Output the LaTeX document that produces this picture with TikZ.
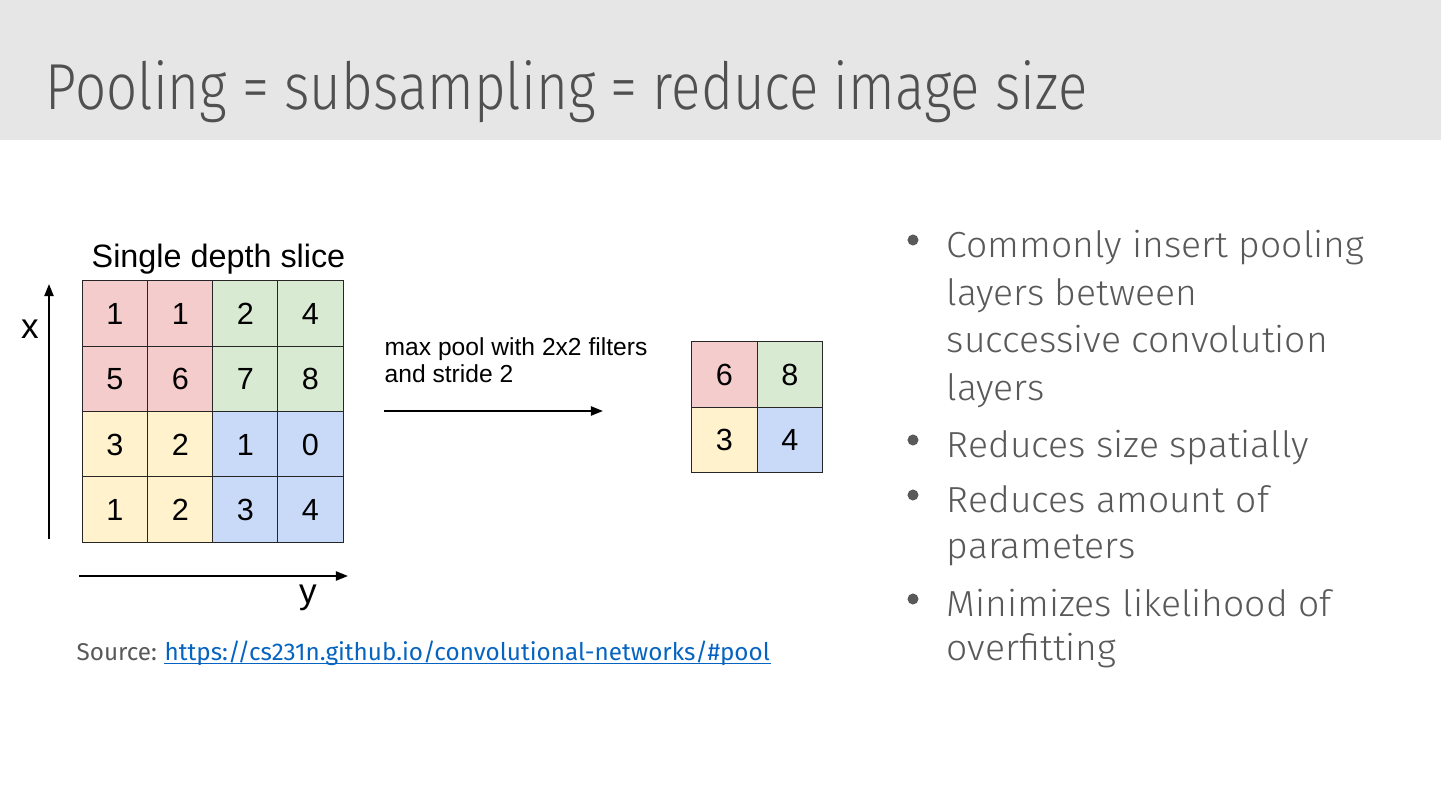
\documentclass[tikz,border=0pt]{standalone}
\usepackage{fontspec}
\setmainfont{Fira Sans Light}
\newfontfamily\arialf{Liberation Sans}
\newfontfamily\srcreg{Fira Sans}
\usetikzlibrary{arrows.meta}
\definecolor{band}{HTML}{E6E6E6}
\definecolor{titlegray}{HTML}{505050}
\definecolor{bodygray}{HTML}{595959}
\definecolor{linkblue}{HTML}{0563C1}
\definecolor{cred}{HTML}{F4CCCC}
\definecolor{cgreen}{HTML}{D9EAD3}
\definecolor{cyellow}{HTML}{FFF2CC}
\definecolor{cblue}{HTML}{C9DAF8}
\begin{document}
\begin{tikzpicture}[x=0.01cm,y=-0.01cm,
  cell/.style={draw=black!85, line width=0.35pt, minimum size=0.653cm, inner sep=0pt, text=black,
    font=\arialf\fontsize{8.7}{10}\selectfont},
  arialtxt/.style={inner sep=0pt, text=black, font=\arialf\fontsize{#1}{#1}\selectfont},
  blt/.style={inner sep=0pt, anchor=base west, text=bodygray, xscale=1.03, font=\fontsize{10.3}{12}\selectfont},
  dot/.style={circle, fill=bodygray, inner sep=0pt, minimum size=0.11cm},
  axisarrow/.style={line width=0.6pt, -{Triangle[length=0.12cm,width=0.09cm]}}
]
\useasboundingbox (0,0) rectangle (1441,809);
\fill[band] (0,0) rectangle (1441,140);
\node[inner sep=0pt, anchor=base west, xscale=0.84, text=titlegray, font=\fontsize{18.5}{22}\selectfont] (title) at (45,110) {Pooling = subsampling = reduce image size};

% input grid
\node[arialtxt=9.2, anchor=base west] (slice) at (91,267) {Single depth slice};
\node[cell, fill=cred] (a11) at (115,313.5) {1};
\node[cell, fill=cred] (a12) at (180.5,313.5) {1};
\node[cell, fill=cgreen] (a13) at (245.5,313.5) {2};
\node[cell, fill=cgreen] (a14) at (310.5,313.5) {4};
\node[cell, fill=cred] (a21) at (115,379) {5};
\node[cell, fill=cred] (a22) at (180.5,379) {6};
\node[cell, fill=cgreen] (a23) at (245.5,379) {7};
\node[cell, fill=cgreen] (a24) at (310.5,379) {8};
\node[cell, fill=cyellow] (a31) at (115,444.5) {3};
\node[cell, fill=cyellow] (a32) at (180.5,444.5) {2};
\node[cell, fill=cblue] (a33) at (245.5,444.5) {1};
\node[cell, fill=cblue] (a34) at (310.5,444.5) {0};
\node[cell, fill=cyellow] (a41) at (115,509.5) {1};
\node[cell, fill=cyellow] (a42) at (180.5,509.5) {2};
\node[cell, fill=cblue] (a43) at (245.5,509.5) {3};
\node[cell, fill=cblue] (a44) at (310.5,509.5) {4};

% axes
\coordinate (xs) at (49,539);
\coordinate (xe) at (49,284);
\draw[axisarrow] (xs) -- (xe);
\node[arialtxt=10] (xlab) at (30,329) {x};
\coordinate (ys) at (79,576);
\coordinate (ye) at (348,576);
\draw[axisarrow] (ys) -- (ye);
\node[arialtxt=10] (ylab) at (308,598) {y};

% pooling arrow
\node[arialtxt=7, anchor=base west] (mp1) at (384,355) {max pool with 2x2 filters};
\node[arialtxt=7, anchor=base west] (mp2) at (384,383) {and stride 2};
\coordinate (ps) at (384,411);
\coordinate (pe) at (603,411);
\draw[axisarrow] (ps) -- (pe);

% output grid
\node[cell, fill=cred] (b11) at (724.5,374.5) {6};
\node[cell, fill=cgreen] (b12) at (790,374.5) {8};
\node[cell, fill=cyellow] (b21) at (724.5,440) {3};
\node[cell, fill=cblue] (b22) at (790,440) {4};

% source
\node[inner sep=0pt, anchor=base west, text=bodygray, font=\srcreg\fontsize{6.9}{8}\selectfont] (src) at (76,660) {Source:};
\node[inner sep=0pt, anchor=base west, text=linkblue, font=\srcreg\fontsize{6.9}{8}\selectfont] (link) at (164,660) {https://cs231n.github.io/convolutional-networks/\#pool};
\draw[linkblue, line width=0.45pt] ([yshift=-0.035cm]link.base west) -- ([yshift=-0.035cm]link.base east);

% bullets
\node[dot] (d1) at (913,240) {};
\node[blt] (l1a) at (946,257) {Commonly insert pooling};
\node[blt] (l1b) at (946,305) {layers between};
\node[blt] (l1c) at (946,353) {successive convolution};
\node[blt] (l1d) at (946,400) {layers};
\node[dot] (d2) at (913,440) {};
\node[blt] (l2a) at (946,457) {Reduces size spatially};
\node[dot] (d3) at (913,495) {};
\node[blt] (l3a) at (946,512) {Reduces amount of};
\node[blt] (l3b) at (946,558) {parameters};
\node[dot] (d4) at (913,599) {};
\node[blt] (l4a) at (946,616) {Minimizes likelihood of};
\node[blt] (l4b) at (946,660) {overfitting};
\end{tikzpicture}
\end{document}
